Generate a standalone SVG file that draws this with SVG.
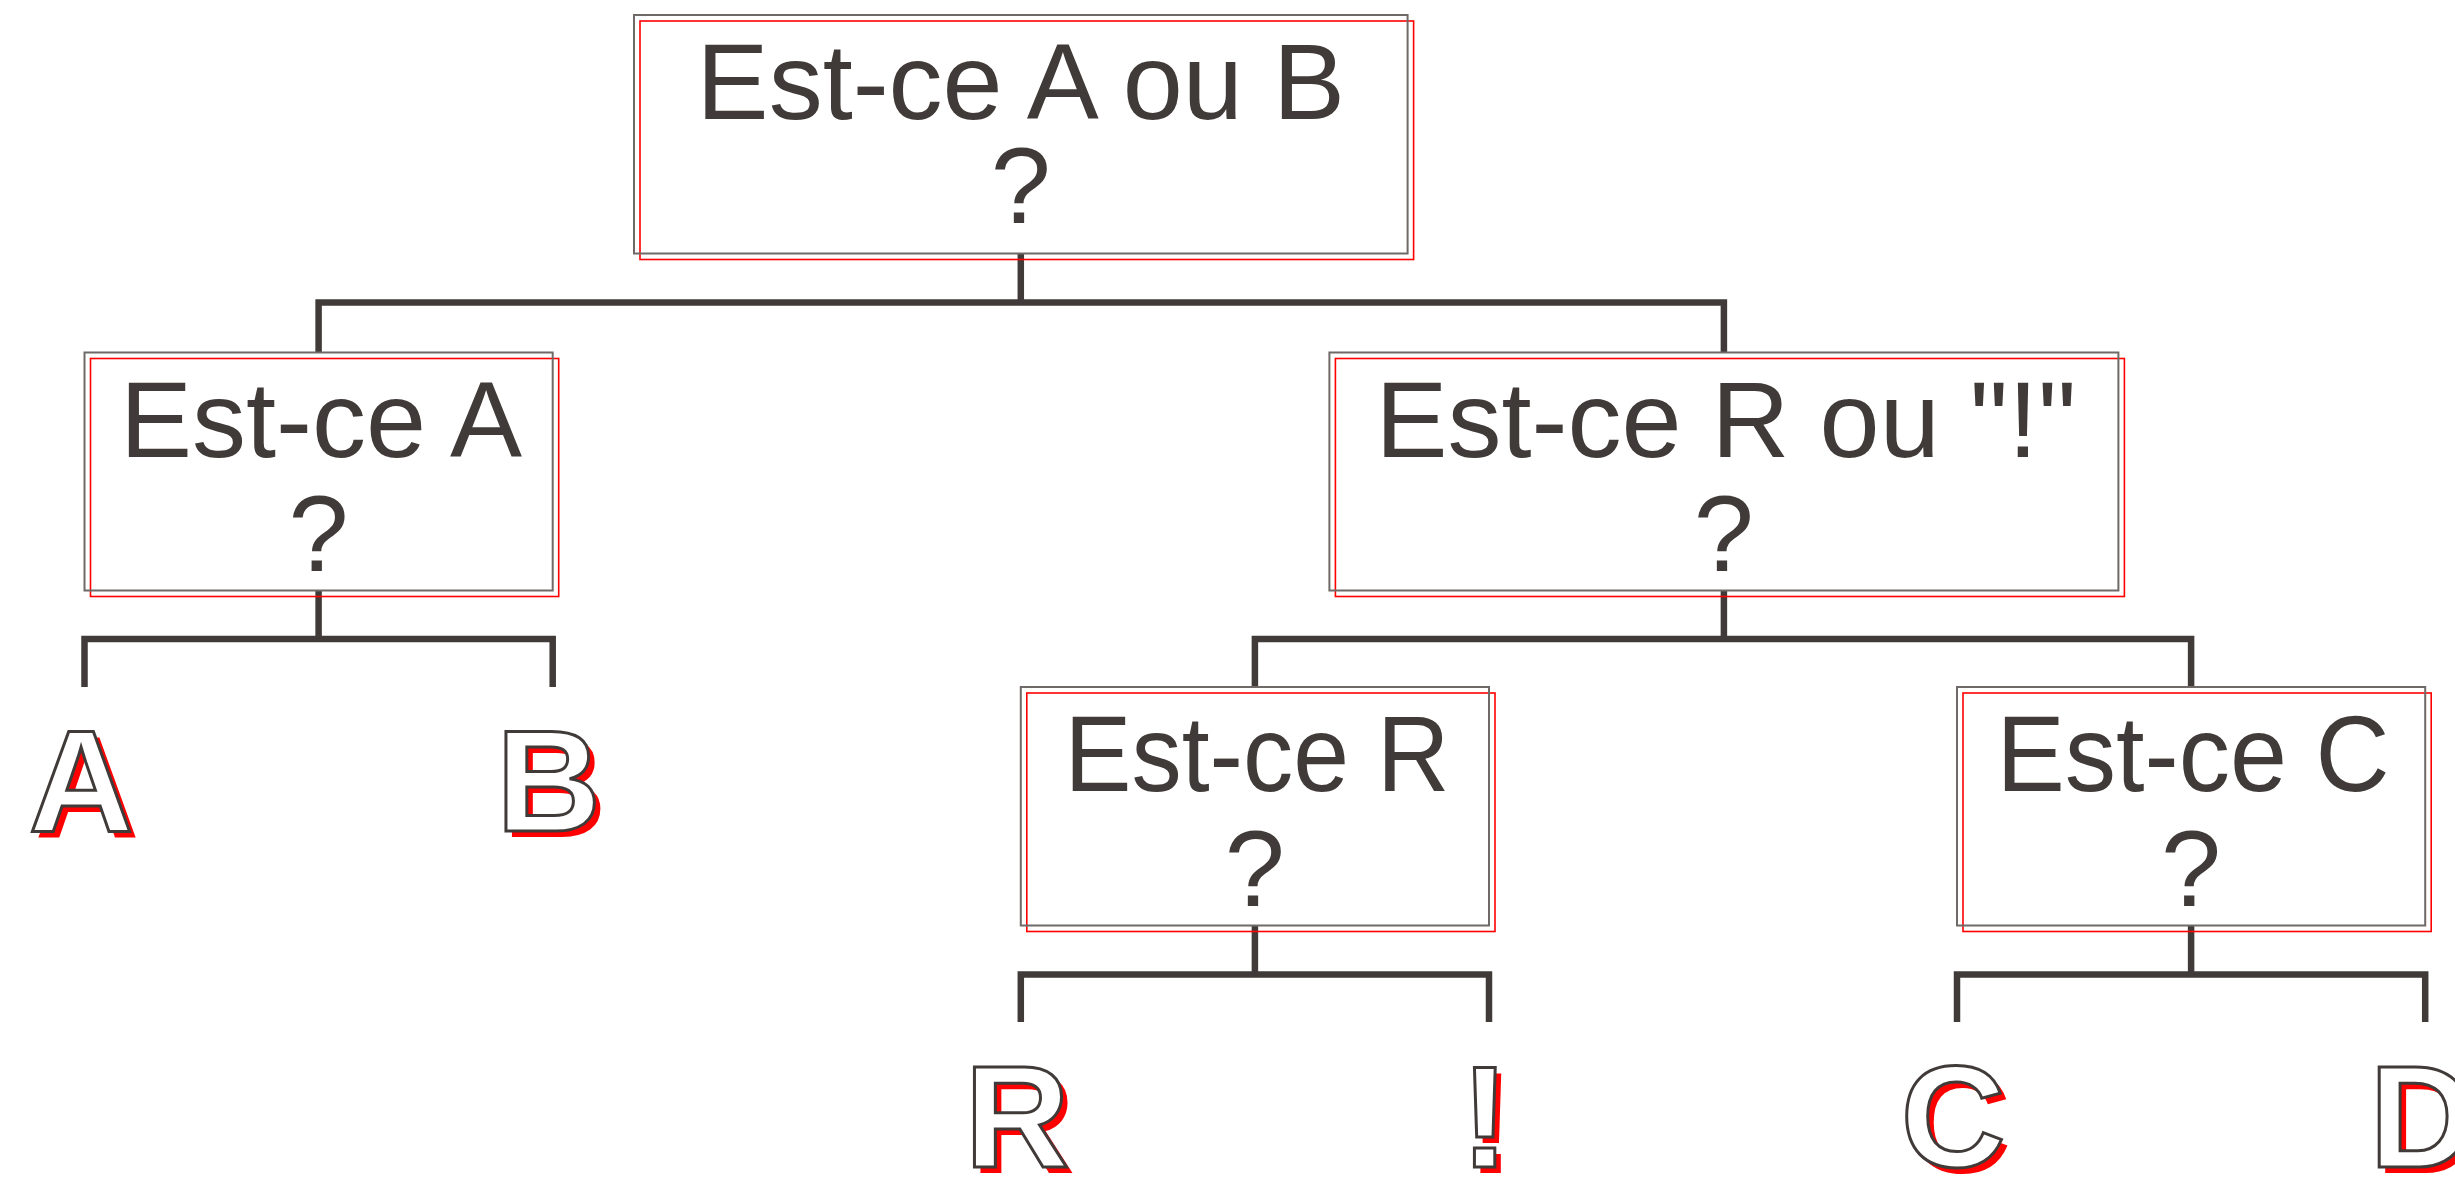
<svg xmlns="http://www.w3.org/2000/svg" width="2455" height="1181" viewBox="0 0 2455 1181">
<style>
.bg{fill:#ffffff}
.frame{fill:none;stroke:#6f6a67;stroke-width:2}
.shadowbox{fill:none;stroke:#ff0000;stroke-width:1.6}
.q{font-family:"Liberation Sans",Arial,sans-serif;font-size:108px;fill:#403b38;text-anchor:middle}
.conn{fill:none;stroke:#403b38;stroke-width:6.5;stroke-linejoin:miter;stroke-linecap:butt}
.leaf{font-family:"Liberation Sans",Arial,sans-serif;font-size:145px;font-weight:bold}
.leafsh{fill:#ff0000}
.leafol{fill:#ffffff;stroke:#403b38;stroke-width:3;stroke-linejoin:miter}
</style>
<rect class="bg" x="0" y="0" width="2455" height="1181"/>

<g id="connectors">
<path class="conn" d="M1020.8,253.5 V302.5"/>
<path class="conn" d="M318.6,352.5 V302.5 H1723.9 V352.5"/>
<path class="conn" d="M318.6,590.5 V639"/>
<path class="conn" d="M84.5,687 V639 H552.7 V687"/>
<path class="conn" d="M1723.9,590.5 V639"/>
<path class="conn" d="M1254.9,687 V639 H2191.1 V687"/>
<path class="conn" d="M1254.9,925.5 V974.5"/>
<path class="conn" d="M1020.8,1022 V974.5 H1489 V1022"/>
<path class="conn" d="M2191.1,925.5 V974.5"/>
<path class="conn" d="M1957,1022 V974.5 H2425.2 V1022"/>
</g>

<g id="node-root">
<rect class="shadowbox" x="640" y="21" width="773.6" height="238.5"/>
<rect class="frame" x="634" y="15" width="773.6" height="238.5"/>
<text class="q" x="1020.8" y="119.3">Est-ce A ou B</text>
<text class="q" x="1020.8" y="223.3">?</text>
</g>

<g id="node-a">
<rect class="shadowbox" x="90.5" y="358.5" width="468.2" height="238"/>
<rect class="frame" x="84.5" y="352.5" width="468.2" height="238"/>
<text class="q" x="321" y="456.5">Est-ce A</text>
<text class="q" x="318.6" y="570.5">?</text>
</g>

<g id="node-r-or-excl">
<rect class="shadowbox" x="1335.4" y="358.5" width="789" height="238"/>
<rect class="frame" x="1329.4" y="352.5" width="789" height="238"/>
<text class="q" x="1726" y="456.5">Est-ce R ou "!"</text>
<text class="q" x="1723.9" y="570.5">?</text>
</g>

<g id="node-r">
<rect class="shadowbox" x="1026.8" y="693" width="468.2" height="238.5"/>
<rect class="frame" x="1020.8" y="687" width="468.2" height="238.5"/>
<text class="q" x="1257" y="790.7" textLength="385" lengthAdjust="spacingAndGlyphs">Est-ce R</text>
<text class="q" x="1254.9" y="906">?</text>
</g>

<g id="node-c">
<rect class="shadowbox" x="1963" y="693" width="468.2" height="238.5"/>
<rect class="frame" x="1957" y="687" width="468.2" height="238.5"/>
<text class="q" x="2193" y="790.7" textLength="393" lengthAdjust="spacingAndGlyphs">Est-ce C</text>
<text class="q" x="2191.1" y="906">?</text>
</g>

<g id="leaf-A">
<text class="leaf leafsh" x="87" y="837" text-anchor="middle">A</text>
<text class="leaf leafol" x="81" y="831" text-anchor="middle">A</text>
</g>
<g id="leaf-B">
<text class="leaf leafsh" x="554.5" y="837" text-anchor="middle">B</text>
<text class="leaf leafol" x="548.5" y="831" text-anchor="middle">B</text>
</g>
<g id="leaf-R">
<text class="leaf leafsh" x="1023" y="1173" text-anchor="middle">R</text>
<text class="leaf leafol" x="1017" y="1167" text-anchor="middle">R</text>
</g>
<g id="leaf-excl">
<text class="leaf leafsh" x="1491" y="1173" text-anchor="middle">!</text>
<text class="leaf leafol" x="1485" y="1167" text-anchor="middle">!</text>
</g>
<g id="leaf-C">
<text class="leaf leafsh" x="1959" y="1173" text-anchor="middle">C</text>
<text class="leaf leafol" x="1953" y="1167" text-anchor="middle">C</text>
</g>
<g id="leaf-D">
<text class="leaf leafsh" x="2375.5" y="1173">D</text>
<text class="leaf leafol" x="2369.5" y="1167">D</text>
</g>
</svg>
